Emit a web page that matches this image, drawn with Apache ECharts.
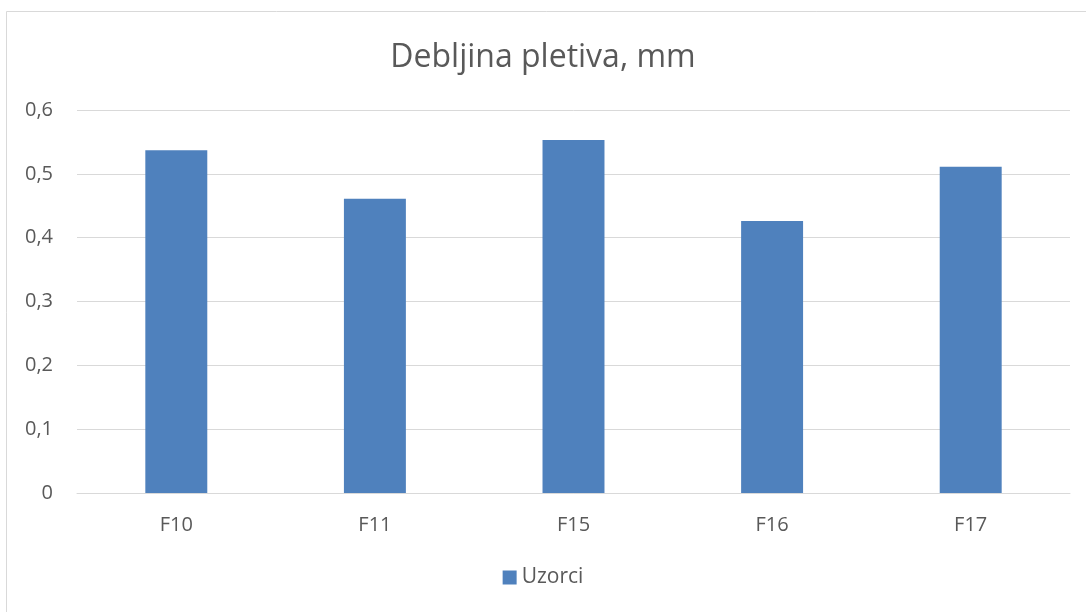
<!DOCTYPE html>
<html>
<head>
<meta charset="utf-8">
<script src="https://cdn.jsdelivr.net/npm/echarts@6/dist/echarts.min.js"></script>
<style>
  html, body { margin: 0; padding: 0; background: #fff; }
  #chart { width: 1086px; height: 612px; }
</style>
</head>
<body>
<div id="chart"></div>
<script>
var categories = ['F10', 'F11', 'F15', 'F16', 'F17'];
var uzorci = [0.537, 0.461, 0.553, 0.426, 0.511];
var seriesName = 'Uzorci';
var titleText = 'Debljina pletiva, mm';

var barColor = '#4F81BD';
var textColor = '#595959';
var gridColor = '#D9D9D9';
var fontFamily = '"Open Sans", "Liberation Sans", sans-serif';

var myChart = echarts.init(document.getElementById('chart'), null, { renderer: 'canvas' });
var option = {
    backgroundColor: '#fff',
    animation: false,
    graphic: [
        {
            type: 'rect',
            shape: { x: 6.5, y: 11.5, width: 1100, height: 700 },
            style: { fill: 'none', stroke: gridColor, lineWidth: 1 },
            silent: true
        }
    ],
    title: {
        text: titleText,
        left: 'center',
        top: 37,
        textStyle: {
            fontFamily: fontFamily,
            fontSize: 32,
            fontWeight: 'normal',
            color: textColor
        }
    },
    color: [barColor],
    legend: {
        bottom: 19,
        left: 'center',
        itemWidth: 14,
        itemHeight: 14,
        itemGap: 6,
        icon: 'rect',
        textStyle: {
            fontFamily: fontFamily,
            fontSize: 21,
            color: textColor
        },
        data: [seriesName]
    },
    grid: {
        left: 77,
        right: 16,
        top: 110,
        bottom: 119,
        containLabel: false
    },
    xAxis: {
        type: 'category',
        data: categories,
        axisLine: { lineStyle: { color: gridColor, width: 1 } },
        axisTick: { show: false },
        axisLabel: {
            margin: 22,
            fontFamily: fontFamily,
            fontSize: 20,
            color: textColor
        }
    },
    yAxis: {
        type: 'value',
        min: 0,
        max: 0.6,
        interval: 0.1,
        axisLine: { show: false },
        axisTick: { show: false },
        splitLine: { lineStyle: { color: gridColor, width: 1 } },
        axisLabel: {
            margin: 24,
            fontFamily: fontFamily,
            fontSize: 20,
            color: textColor,
            formatter: function (v) {
                return (Math.round(v * 10) / 10).toString().replace('.', ',');
            }
        }
    },
    series: [
        {
            name: seriesName,
            type: 'bar',
            barWidth: '31.2%',
            data: uzorci
        }
    ]
};

myChart.setOption(option);
</script>
</body>
</html>
